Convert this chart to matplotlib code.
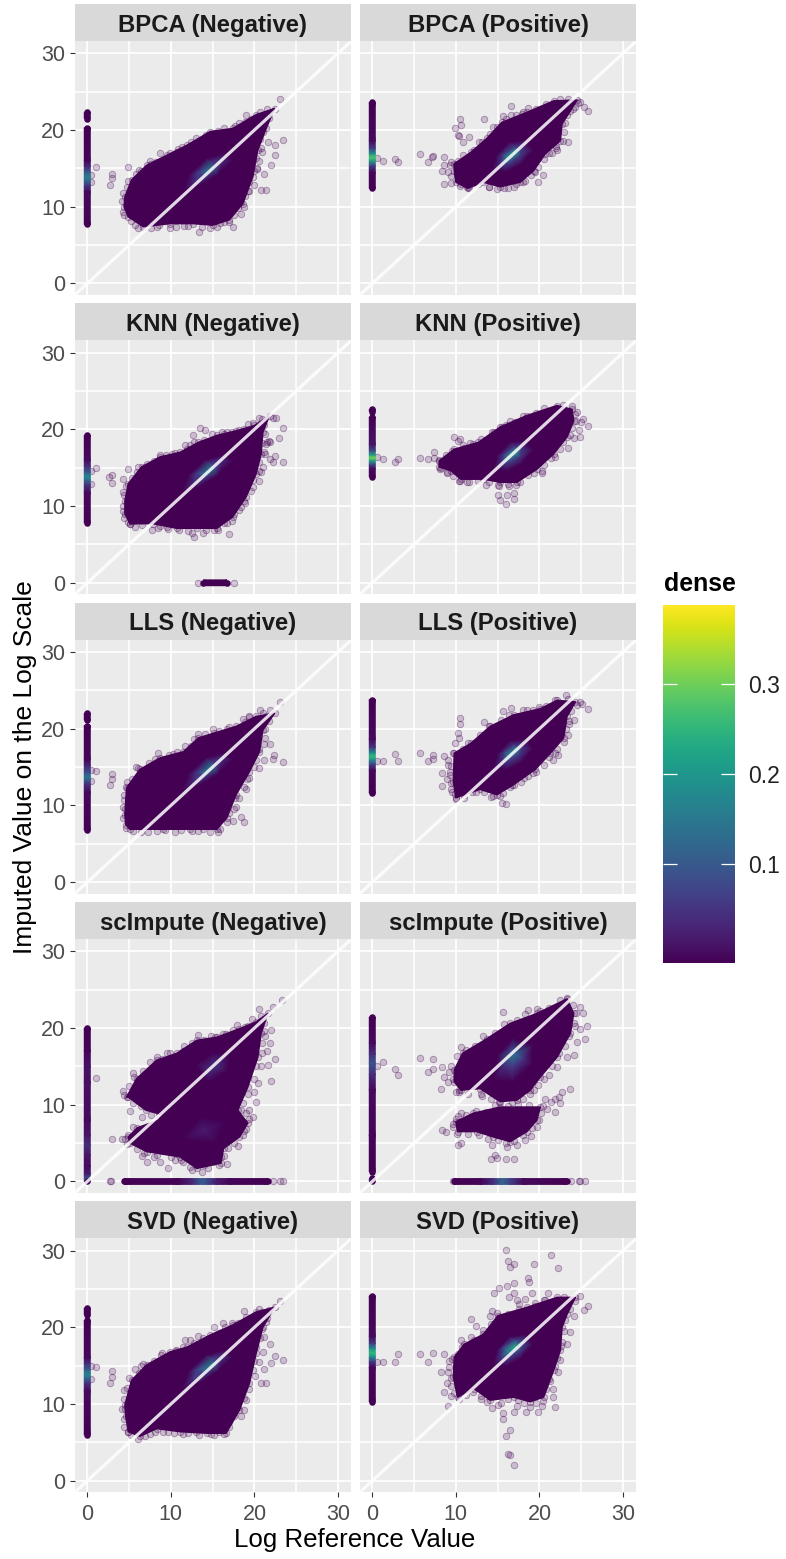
import matplotlib
matplotlib.use('Agg')
import matplotlib.pyplot as plt
from matplotlib.cm import ScalarMappable
from matplotlib.colors import Normalize

plt.rcParams['font.family'] = ['Liberation Sans', 'DejaVu Sans']

# values, all (x, y) on the log scale
# cloud = outline of the solid mass, edge = points on its rough rim, points = loose points,
# hot = (x, y, dense) inside the mass, strips = (y or x, dense) along an axis

bpca_neg_cloud = [(4.5, 11.3), (5.3, 13.5), (7.1, 15.4), (9.5, 16.7), (11.9, 18), (14.7, 19.8), (17.4, 20.2), (20.2, 22), (22.4, 22.8), (21.4, 20.2), (20.4, 17.4), (19.8, 13.9), (18.6, 10.4), (17, 8.3), (15, 7.6), (12.7, 7.8), (9.9, 7.8), (6.7, 7.4), (4.9, 8.7), (4.4, 10)]
bpca_neg_edge = [(4.2, 10.8), (4.8, 12.6), (4.9, 13.4), (5.8, 14.3), (6.4, 14.6), (7.6, 15.6), (8.2, 15.8), (9.9, 17), (10.7, 17.1), (12.4, 17.9), (13.9, 18.6), (14.2, 19.4), (15.6, 19.9), (16.6, 19.8), (17.7, 20.5), (18.9, 21), (19.6, 21.4), (20.7, 22.4), (21.5, 22.7), (21.7, 21.6), (21.2, 21), (21, 19.8), (20.7, 18.8), (20.8, 17.6), (20.2, 16.4), (20.3, 15), (19.9, 14.6), (19.4, 13.2), (19.4, 12), (18.9, 11.4), (18.4, 10.6), (18, 9.8), (17.6, 8.9), (16.9, 8), (15.9, 7.9), (14.7, 7.2), (13.7, 7.4), (11.6, 7.5), (10.6, 7.4), (8.6, 7.6), (7.6, 7.2), (5.7, 7.6), (5.2, 8.1), (4.4, 8.9)]
bpca_neg_points = [(1.1, 15.2), (2.9, 14.3), (2.9, 13.7), (2.7, 12.8), (0.4, 14.2), (0.5, 13.2), (4.3, 11.8), (4.9, 15.2), (6.1, 7.2), (9.9, 7.2), (13.4, 6.7), (17.4, 7.4), (15.5, 7.4), (18.4, 9.1), (18.8, 10), (20.8, 12.2), (21.4, 12.2), (21.2, 14.3), (22, 15.4), (22.4, 16.7), (22.4, 18), (23.4, 18.7), (21.6, 18.5), (23, 24), (19, 22), (18.2, 20.9), (11.3, 17.8), (8.7, 17), (13, 18.9), (16.3, 20.2), (19.5, 15.5), (20.6, 16), (20.9, 17.2), (19.2, 12), (16.3, 8), (12, 7.5), (8.3, 7.4), (4.3, 9.3), (6.2, 14.8), (7.5, 15.9), (10.8, 17.5), (12.4, 18.4), (19.9, 12.8), (20.3, 14.9)]
bpca_neg_hot = [(11.6, 12.3, 0), (12.2, 14.2, 0), (14.2, 16.2, 0), (16.6, 17, 0), (17.4, 16, 0), (15.6, 14.2, 0), (13.4, 12.8, 0), (12.9, 13.4, .05), (13.2, 14.4, .06), (15, 15.8, .06), (16.2, 16, .04), (15.4, 15, .07), (13.9, 14, .07), (14.1, 14.6, .13), (15, 15.2, .14)]
bpca_neg_strips = [[(21.5, 0), (22.3, 0)], [(7.7, 0), (12, .01), (12.8, .06), (13.5, .14), (14, .16), (14.5, .11), (15.3, .04), (16, .005), (20.3, 0)]]
bpca_neg_axis = []

bpca_pos_cloud = [(9.8, 15.6), (11.8, 17.1), (13.7, 18.9), (15.5, 21), (18.5, 22.3), (21.7, 23.8), (24.5, 23.9), (23.7, 22.5), (22.7, 20.8), (22.5, 18.6), (20.7, 16.9), (19.3, 14.7), (17.7, 13.2), (15.3, 12.6), (13.3, 13.2), (11.4, 12.4), (10, 13.2), (9.8, 14.7)]
bpca_pos_edge = [(9.4, 14), (9.3, 15.4), (10.2, 16), (10.9, 16.8), (12.2, 17.4), (13.1, 18.4), (14.1, 19.5), (14.9, 20.4), (16, 21.4), (17.2, 21.9), (18, 22.3), (19.6, 22.8), (20.8, 23.4), (22.4, 24), (23.4, 24), (24.6, 23.5), (24, 22.7), (23.3, 21.9), (23.1, 20.9), (22.9, 19.8), (22.8, 18.6), (22, 17.9), (21.2, 17), (20.6, 16.2), (19.8, 15.2), (19, 14.2), (18.3, 13.3), (17.2, 12.9), (16.2, 12.4), (14.9, 12.3), (14, 12.6), (12.7, 13), (11.3, 12.6), (10.6, 12.9)]
bpca_pos_points = [(10.5, 21.5), (10.6, 20.6), (9.9, 20.2), (10.3, 19.3), (10.4, 19.2), (11.6, 19.1), (10.8, 18.4), (13.4, 21.4), (16.6, 23.1), (18.6, 22.9), (15.6, 21.8), (16.6, 22), (17.9, 22.1), (24.9, 23.6), (25.8, 22.5), (25.3, 23), (23.4, 18.4), (22.1, 17.4), (5.7, 16.9), (7.3, 16.6), (7.2, 16.5), (6.7, 15.8), (3.1, 15.8), (2.7, 16.2), (1.3, 16), (.6, 16.3), (8.6, 16.5), (8.4, 14.7), (8.6, 15.4), (8.6, 12.9), (9.4, 13.1), (10.5, 12.7), (11.6, 12.4), (19.8, 13.2), (20.4, 14.1), (19.5, 14.5), (16.9, 12.6), (18, 13.2), (9, 14.5), (9.4, 15.8), (14.4, 20.4), (12.8, 18.4), (14, 12.6), (15.8, 12.4), (22, 17.6), (21.5, 17), (24.3, 23)]
bpca_pos_hot = [(14.4, 14.8, 0), (14.8, 16.6, 0), (16.4, 18.4, 0), (18.4, 18.6, 0), (19.2, 17.4, 0), (17.8, 15.6, 0), (16, 14.6, 0), (15.4, 15.6, .06), (15.7, 16.8, .07), (17, 17.8, .07), (18, 17.6, .05), (17.6, 16.6, .07), (16.4, 15.8, .08), (16.1, 16.4, .18), (17, 17, .22)]
bpca_pos_strips = [[(12.4, 0), (14.5, .005), (15.4, .08), (16.1, .24), (16.5, .28), (16.9, .2), (17.6, .07), (18.6, .01), (23.6, 0)]]
bpca_pos_axis = []

knn_neg_cloud = [(4.5, 10.7), (4.9, 12.9), (6.5, 15.1), (8.7, 16.4), (11.1, 17), (13.3, 18.3), (15.5, 19.2), (17.8, 19.8), (20, 20.5), (21.8, 21.8), (21, 19.6), (20.8, 16.8), (20.2, 14.2), (19, 11.2), (17.4, 8.6), (15.5, 7.1), (13.1, 7.1), (10.7, 7.1), (7.9, 7.7), (5.1, 7.7), (4.5, 9)]
knn_neg_edge = [(4.3, 10), (4.4, 11.4), (4.6, 12.6), (5.3, 13.6), (5.9, 14.4), (7.2, 15.5), (8, 15.9), (9.4, 16.7), (10.5, 16.9), (11.9, 17.4), (12.8, 18.3), (14, 18.6), (14.9, 19.4), (16.4, 19.4), (17.3, 19.7), (18.8, 20.1), (19.8, 20.8), (20.9, 21.3), (21.2, 20.6), (21.3, 19.4), (20.9, 18.2), (21.1, 17), (20.6, 15.8), (20.5, 14.6), (19.8, 13.4), (19.6, 12), (18.9, 10.4), (18.1, 9.5), (17.3, 8.1), (16.4, 7.8), (15.2, 6.9), (14.2, 6.9), (12.1, 6.8), (11, 6.9), (9.5, 7.3), (8.5, 7.2), (6.6, 7.5), (5.7, 7.3), (4.9, 7.9), (4.4, 8.4)]
knn_neg_points = [(1.1, 15), (2.9, 14), (2.6, 13.8), (2.9, 13), (.4, 14.6), (.5, 12.9), (4.3, 13.5), (4.9, 14.8), (6.1, 15.1), (8.7, 16.6), (10.1, 16.8), (11.7, 18), (12.3, 18), (12.7, 19.2), (13.5, 20.2), (14.1, 19.9), (16.1, 19.6), (16.7, 19.7), (18.2, 19.9), (19.2, 20.7), (20.6, 21.5), (22.6, 21.5), (22.2, 21.5), (23.4, 20.2), (22.9, 18.9), (21.8, 18.3), (21.5, 18.3), (21.7, 18.5), (21.4, 18.1), (22.4, 16.5), (21.8, 16.1), (23.4, 15.7), (22.2, 15.7), (21, 15.1), (20.8, 14.4), (19.8, 12.5), (18.8, 10.7), (18.4, 9.9), (17.6, 9), (17, 6.4), (13.9, 6.5), (12.8, 6), (12.5, 6.5), (7.7, 6.9), (8.7, 7.4), (5.1, 7.7), (4.3, 9.4), (4.3, 11.8), (5.4, 8), (9.6, 7), (15.6, 6.9), (16.7, 7.8), (20.5, 13.3), (21.3, 16.8)]
knn_neg_hot = [(11.4, 12, 0), (12.1, 14, 0), (14, 15.9, 0), (16.6, 16.8, 0), (17.4, 15.8, 0), (15.6, 14, 0), (13.3, 12.5, 0), (12.8, 13.1, .05), (13, 14.2, .06), (14.8, 15.6, .06), (16.2, 15.9, .04), (15.4, 14.8, .07), (13.9, 13.7, .07), (13.9, 14.2, .14), (14.9, 15, .16)]
knn_neg_strips = [[(7.8, 0), (11.8, .01), (12.8, .06), (13.5, .15), (13.9, .18), (14.4, .11), (15.2, .05), (16, .01), (19.2, 0)]]
knn_neg_axis = [[(13.9, 0), (16.7, 0)]]
knn_neg_axis_points = [(13.3, 0), (17.5, 0)]

knn_pos_cloud = [(8, 15.9), (9.8, 17.4), (12.7, 18.3), (15.3, 20.3), (18.5, 21.8), (22.1, 23.1), (23.9, 22.6), (24.1, 21.1), (23.3, 19), (21.7, 16.8), (19.7, 14.8), (17.3, 13.1), (15.3, 13.1), (13.3, 13.5), (10.6, 13.5), (9.4, 14.6), (8, 15.1)]
knn_pos_edge = [(8.1, 14.8), (8, 16), (8.8, 16.7), (9.5, 17.2), (11, 17.5), (12, 18.1), (13.7, 18.6), (14.6, 19.7), (16, 20.6), (17.1, 20.9), (18, 21.7), (19.6, 22.1), (20.6, 22.8), (22.8, 23.2), (23.9, 23), (24.2, 22), (24.4, 21.1), (23.9, 20.2), (23.7, 19.2), (22.8, 18.4), (22.4, 17.4), (21.4, 16.3), (20.6, 15.4), (19.4, 14.3), (18.6, 14), (17.7, 13.1), (16.2, 12.9), (15, 12.7), (14, 13.1), (12.6, 13.2), (11.6, 13.1), (10.5, 13.2), (9.7, 13.9), (8.9, 14.4)]
knn_pos_points = [(9.8, 19), (10.5, 18.7), (10.2, 18.5), (10.8, 17.9), (7.4, 17), (7.4, 16.3), (6.7, 16.1), (5.7, 16.3), (3.1, 16.1), (2.7, 15.8), (1.3, 16.1), (.6, 16.4), (13.6, 12.8), (15, 11.4), (15.3, 10.8), (16, 10.3), (16.1, 11.5), (16.9, 10.9), (17, 11.7), (20.3, 14.6), (21.9, 16.4), (23.4, 17.6), (24.1, 18.9), (24.9, 19), (25.8, 20.4), (25.2, 21.3), (24.7, 19.9), (15.5, 20.3), (16.5, 21.1), (13, 18.8), (14.3, 19.7), (8.2, 15), (8.9, 14.3), (10.4, 13.2), (11.3, 13.1), (15.2, 12.6), (16.3, 12.6), (17.2, 12.8), (20.3, 14.3), (24.5, 22.2), (25, 21), (11.7, 18.2)]
knn_pos_hot = [(14.5, 14.8, 0), (14.9, 16.5, 0), (16.5, 18.3, 0), (18.4, 18.5, 0), (19.2, 17.3, 0), (17.8, 15.5, 0), (16.1, 14.6, 0), (15.5, 15.6, .06), (15.8, 16.7, .07), (17, 17.7, .07), (18, 17.5, .05), (17.6, 16.5, .07), (16.4, 15.8, .08), (16.2, 16.3, .18), (17.1, 17, .22)]
knn_pos_strips = [[(13.8, 0), (14.9, .01), (15.5, .1), (16, .24), (16.3, .31), (16.6, .24), (17.2, .09), (18, .02), (21.6, 0)], [(22.3, 0), (22.6, 0)]]
knn_pos_axis = []

lls_neg_cloud = [(4.5, 8.8), (4.7, 12.3), (6.3, 14.7), (8.7, 16.2), (11.5, 17), (13.3, 18.8), (15.1, 19.4), (17.8, 20.3), (20.2, 21.6), (22.4, 22), (21, 19.8), (20.6, 17), (19.4, 14.4), (17.8, 11.4), (16.7, 8.4), (15.5, 6.9), (12.3, 6.9), (9.1, 6.9), (5.1, 6.9), (4.6, 7.5)]
lls_neg_edge = [(4.3, 8.4), (4.3, 9.8), (4.4, 11.3), (4.6, 12.4), (5.4, 13.5), (6.1, 14.9), (7.4, 15.5), (8.1, 16.1), (9.8, 16.6), (10.7, 17), (12.4, 17.7), (12.8, 18.6), (14.1, 19.3), (15.8, 19.7), (17, 20.2), (18.9, 20.9), (19.4, 21.5), (21, 22), (21.8, 22.5), (21.7, 21), (21.3, 20), (21.3, 18.8), (20.5, 17.4), (20.2, 15.9), (20, 15), (19.1, 13.5), (18.7, 12.4), (17.7, 11), (17.6, 9.6), (16.9, 9), (16.7, 7.8), (15.6, 6.6), (14.7, 6.6), (13.3, 6.7), (10.5, 6.6), (8.4, 6.7), (6.4, 6.6), (5.5, 6.7), (4.6, 7)]
lls_neg_points = [(1.1, 14.5), (2.9, 14.1), (2.9, 13.4), (2.7, 12.7), (.4, 13.2), (.4, 14.6), (4.4, 10.7), (4.5, 9.5), (4.8, 13.1), (5.8, 15), (8.5, 16.9), (11.7, 17.8), (13.3, 19.3), (15, 20), (16.7, 20), (18.6, 21.3), (20.7, 22.5), (23, 23.5), (21.8, 18), (21.1, 18), (22.3, 16.6), (22.2, 16.1), (23.4, 15.6), (21.2, 15.9), (20.6, 14.9), (19.4, 13.6), (18.2, 11), (18.4, 8.5), (18.8, 7.8), (17.4, 8), (7.3, 6.5), (9.3, 6.8), (13.9, 6.9), (15.9, 6.9), (17.8, 9.8), (19, 12.2), (21.4, 21.7), (19.4, 21.7), (10.2, 16.7), (12.5, 6.7), (11.2, 6.8)]
lls_neg_hot = [(11.4, 12, 0), (12.1, 14.1, 0), (14.1, 16.1, 0), (16.6, 16.9, 0), (17.4, 15.9, 0), (15.6, 14.1, 0), (13.3, 12.6, 0), (12.8, 13.2, .05), (13.1, 14.3, .06), (14.9, 15.7, .06), (16.2, 16, .04), (15.4, 14.9, .07), (13.9, 13.8, .07), (14, 14.3, .14), (15, 15.1, .16)]
lls_neg_strips = [[(21.1, 0), (22, 0)], [(6.8, 0), (11.8, .01), (12.8, .05), (13.4, .12), (13.8, .15), (14.3, .09), (15.2, .04), (16, .005), (20.4, 0)]]
lls_neg_axis = []

lls_pos_cloud = [(9.8, 16.8), (11.8, 18.1), (14.1, 20.3), (16.9, 21.8), (20.1, 22.6), (22.1, 23.7), (24.3, 23.5), (23.3, 21.6), (22.9, 18.8), (21.3, 16.8), (19.5, 14.7), (16.9, 12.7), (14.9, 11.4), (12.9, 12.1), (11, 11.4), (10, 11), (9.7, 13.1)]
lls_pos_edge = [(9.4, 12.1), (9.3, 14), (9.4, 15.2), (9.6, 16.8), (10.8, 17.3), (11.5, 18.2), (12.9, 19.2), (14, 20.4), (15.4, 21.1), (16.4, 21.8), (18, 22.4), (19.2, 22.5), (20.8, 23), (21.9, 23.8), (23.4, 23.9), (24.5, 23.1), (23.8, 22.3), (23.5, 21), (23.2, 19.9), (22.9, 18.3), (22.1, 17.4), (21.1, 16.3), (20.5, 15.3), (19.6, 14.3), (18.6, 13.9), (17.8, 13), (16.5, 12.4), (15.6, 11.6), (14.4, 11.2), (13.4, 11.8), (11.9, 11.7), (11, 11), (9.9, 11.5)]
lls_pos_points = [(10.5, 21.4), (10.5, 20.6), (10.2, 19.5), (10.4, 18.8), (9.9, 18.1), (13.4, 20.9), (15.6, 22.3), (16.6, 22.7), (18.5, 22.4), (19.9, 22.8), (23.2, 24.4), (24.9, 23.5), (25.8, 22.6), (24.1, 21.1), (23.5, 20.6), (23.4, 19.2), (22.2, 16.6), (21.6, 15.9), (19.2, 14.2), (16.7, 12.7), (15.5, 10.3), (16, 10.2), (15.3, 11.2), (10, 10.9), (9.5, 11.8), (8.4, 12.6), (9.4, 12.9), (8.4, 14.2), (9, 15.9), (8.6, 16.5), (9, 15.3), (7.3, 16.6), (7.3, 16.1), (6.7, 15.8), (5.7, 16.9), (3.1, 15.8), (2.7, 16.7), (1.3, 15.8), (.6, 15.8), (8.9, 13.4), (9.3, 14.3), (25.1, 23.2), (21.9, 16.9), (18.2, 13.6), (12.4, 11.7), (14.2, 11.1)]
lls_pos_hot = [(14.5, 14.8, 0), (14.9, 16.6, 0), (16.5, 18.4, 0), (18.4, 18.6, 0), (19.2, 17.4, 0), (17.8, 15.6, 0), (16.1, 14.7, 0), (15.5, 15.7, .05), (15.8, 16.9, .07), (17, 17.8, .07), (18, 17.6, .05), (17.6, 16.6, .06), (16.4, 15.9, .07), (16.2, 16.5, .16), (17.1, 17.2, .2)]
lls_pos_strips = [[(11.6, 0), (14.6, .005), (15.4, .08), (16, .2), (16.4, .26), (16.8, .2), (17.6, .06), (18.6, .01), (23.8, 0)]]
lls_pos_axis = []

sci_neg_cloud = [(4.7, 11), (5.9, 13.4), (8.3, 15.8), (10.7, 16.7), (13.1, 18.4), (15.5, 18.8), (18.2, 19.9), (20.2, 20.8), (21.6, 21.9), (20.8, 19.3), (20.4, 16.2), (19.2, 12.3), (18, 9.3), (19.2, 7.6), (18.2, 5.8), (16.3, 4.3), (16, 2.4), (13.1, 1.7), (11.1, 3.2), (7.1, 3.9), (5.1, 5), (4.9, 5.8), (6, 7), (8.5, 8), (9, 8.7), (7, 9.3), (4.9, 11)]
sci_neg_edge = [(4.4, 11.3), (5, 12.4), (5.6, 13.6), (6.7, 14.4), (7.5, 15.6), (8.9, 16), (9.9, 16.7), (11.4, 17), (12.5, 18), (14, 18.4), (14.8, 19), (16.6, 19.2), (17.4, 19.7), (18.9, 20.1), (19.7, 21.2), (20.8, 21.6), (21.1, 20.6), (21.2, 19.6), (20.9, 18), (20.9, 16.8), (20.2, 15), (19.9, 13.4), (19.2, 11.4), (18.6, 10.2), (18.4, 9.3), (19.3, 8.2), (19, 6.8), (18.6, 6.1), (17.6, 5), (16.8, 4.4), (16.4, 3.3), (15, 2.6), (14, 2.1), (12.3, 1.9), (11.2, 2.8), (10, 3.2), (8.4, 3.4), (6.8, 3.7), (5.9, 4.2), (4.8, 4.9), (4.2, 5.5), (6.6, 8.4), (7.6, 8.6), (8.6, 8.5), (9.6, 8.4), (8.5, 9.2), (6.4, 9.8), (5.5, 10.2)]
sci_neg_points = [(1.1, 13.5), (2.9, 5.5), (4.5, 5.6), (4.9, 6.1), (5.5, 7.1), (5.1, 9.2), (4.3, 11.8), (5.5, 14.2), (8.3, 16.2), (9.5, 16.7), (11.6, 17.6), (13.3, 19.1), (15.3, 18.8), (16.2, 19.2), (17.9, 20.4), (19.2, 20.2), (20.6, 22.5), (22.2, 22.8), (23.3, 23.7), (22, 19.7), (21.9, 18), (22.4, 16), (21.6, 15.2), (22, 13.1), (20.4, 12.8), (20.2, 10.3), (19.4, 9.3), (19, 8.9), (19.8, 8.4), (18, 4.6), (16, 3.2), (16.7, 2.3), (15.7, 2.2), (9.7, 1.8), (8.7, 2.5), (7.1, 2.6), (6.5, 3.3), (12.5, 1.5), (13.7, 1.3), (21.3, 18.9), (21.5, 17), (20.8, 15), (19.9, 11.7), (18.7, 6.6), (14.5, 1.8), (11.4, 2.5), (10.5, 2.8), (8, 3.2)]
sci_neg_hot = [(12.4, 12.6, 0), (13, 15.2, 0), (15, 16.8, 0), (17, 16.6, 0), (16.8, 14.4, 0), (14.4, 12.9, 0), (14.6, 14.6, .05), (15.4, 15.2, .055), (11.3, 5.5, 0), (13.5, 8.4, 0), (16.4, 7.8, 0), (15.5, 5, 0), (13.9, 6.7, .03)]
sci_neg_strips = [[(0, .12), (.4, .1), (1, .03), (2, .01), (3.5, .02), (4.8, .05), (6, .02), (8, .01), (13, .015), (15, .02), (17, .005), (20, 0)]]
sci_neg_axis = [[(4.4, 0), (11, .005), (12.5, .04), (13.3, .09), (13.8, .11), (14.4, .08), (15.5, .03), (17, .005), (21.6, 0)]]
sci_neg_axis_points = [(2.8, 0), (2.7, 0), (22.2, 0), (23, 0), (23.4, 0)]

sci_pos_up = [(9.8, 14.5), (10.8, 16.7), (13.7, 18.6), (16.5, 20.6), (19.7, 21.9), (23.3, 23.8), (24.1, 21.9), (23.7, 19.3), (22.1, 16.2), (20.1, 13.6), (18.9, 11.9), (17.3, 10.6), (15.3, 10.4), (12.9, 12.1), (10.6, 11.9), (9.8, 13)]
sci_pos_low = [(10, 7.8), (12.1, 8.9), (15.3, 9.7), (20.1, 9.7), (19.7, 8), (18.5, 6.5), (16.5, 5.2), (14.5, 5.8), (12.5, 6.5), (10.2, 6.5)]
sci_pos_edge = [(9.6, 13.4), (9.4, 15), (10.1, 16.3), (11.2, 17.2), (12.3, 17.6), (13.3, 18.9), (14.7, 19.3), (15.8, 20.5), (17.3, 21), (18.3, 21.8), (20.1, 22.2), (21.1, 22.6), (22.5, 23.6), (24, 23), (24.4, 22), (24.1, 20.6), (23.5, 19), (23, 17.7), (22.3, 16.8), (21.5, 15.1), (20.5, 13.4), (19.8, 12.6), (18.9, 11.4), (18, 10.7), (16.7, 10.3), (15.2, 10.3), (14.2, 10.8), (13, 11.4), (11.4, 11.4), (10.4, 11.9), (9.7, 7.5), (10.3, 8.5), (11.2, 8.6), (12.4, 9.2), (13.6, 9.1), (14.7, 10), (16.2, 9.8), (17.4, 10.1), (18.7, 10), (20.4, 9.9), (20.2, 8.9), (20, 8), (19.1, 7), (18, 6), (17, 5.3), (16, 5), (15, 5.4), (13.9, 5.6), (12.8, 6.1), (11.4, 6.2), (10.1, 6.2)]
sci_pos_points = [(15.6, 22.1), (18.6, 22.4), (19.7, 22.5), (23.3, 23.9), (24.9, 22.7), (25.2, 21.9), (25.7, 20.2), (24.9, 19.9), (25.4, 18.6), (24.1, 16.5), (23.3, 16.2), (22.1, 14.9), (21.1, 13.9), (23.6, 12), (22.7, 11.6), (21.9, 10.8), (22.5, 10.2), (21.9, 9.1), (20.7, 10.8), (19.7, 7.1), (19.3, 11.9), (10.6, 17.5), (8.4, 14.9), (8.6, 13.6), (8.2, 12), (10, 11.6), (10.4, 11.7), (13.1, 11.1), (10.6, 8.9), (10, 8.2), (8.4, 6.7), (8.8, 6.5), (9.6, 7.1), (10.2, 4.8), (10.6, 5), (14.3, 4.8), (16.1, 4.5), (17.3, 4.8), (18.3, 5.4), (14.2, 2.9), (14.9, 3), (16, 2.9), (16.9, 2.9), (14.7, 3.5), (5.7, 16.1), (7.3, 15.9), (7.3, 14.7), (6.7, 14.3), (3.1, 13.9), (2.7, 14.6), (1.3, 15.6), (.6, 15), (21.4, 10.3), (20.9, 9.4), (22.3, 11), (9, 12.9), (9.2, 14.3), (24.5, 18.2), (24.2, 20.3), (19, 5.9)]
sci_pos_hot = [(14.6, 13.2, 0), (15, 16.4, 0), (16.8, 18.6, 0), (19.2, 17.8, 0), (19, 15.2, 0), (16.8, 13, 0), (15.7, 15, .05), (16.6, 17.3, .06), (18, 16, .06), (16.8, 14.8, .06), (16.7, 16.2, .14), (17.3, 16.6, .12)]
sci_pos_strips = [[(1.3, 0), (6, .005), (12, .01), (14, .05), (15.4, .1), (16.6, .05), (18, .01), (21.4, 0)], [(0, .12), (.4, .08)]]
sci_pos_axis = [[(9.8, 0), (13, .005), (14.5, .05), (15.5, .13), (16.5, .07), (18, .01), (23.3, 0)]]
sci_pos_axis_points = [(9.7, 0), (23.8, 0), (24.7, 0), (24.9, 0), (25.4, 0)]

svd_neg_cloud = [(4.5, 9.9), (5.3, 13.1), (7.1, 15.1), (9.9, 16.8), (11.9, 17.4), (14.7, 19), (17.4, 20.3), (20.2, 22), (22.4, 22.6), (21, 20), (20.2, 16.6), (19.4, 12.7), (18.2, 9.2), (16.6, 6.2), (14.3, 6.2), (11.1, 6.4), (8.3, 6.8), (6.3, 5.8), (4.9, 6.4), (4.6, 8.4)]
svd_neg_edge = [(4.2, 9.3), (4.4, 10.7), (4.8, 12.1), (5, 13.4), (6.2, 14), (6.7, 15.2), (8, 15.6), (8.8, 16.4), (10.6, 16.9), (11.4, 17.4), (12.8, 17.9), (13.9, 18.6), (15.8, 19.2), (16.5, 20.1), (18, 20.6), (19, 21.4), (20.9, 22), (21.7, 22.3), (21.5, 21.2), (20.9, 19.8), (20.7, 18.6), (20.2, 17.4), (20, 15.6), (19.8, 14.4), (19.4, 12), (18.8, 10.8), (18, 9.6), (17.6, 8.4), (16.9, 7), (15.8, 6.4), (14.8, 6.1), (13, 6.3), (11.5, 6.1), (9.6, 6.4), (8.1, 6.3), (6.9, 5.9), (5.2, 6), (4.4, 7), (4.4, 8.1)]
svd_neg_points = [(1.1, 14.8), (2.9, 14.3), (2.9, 13.5), (2.7, 12.7), (.4, 13.2), (.5, 14.9), (4.4, 11.8), (4.5, 9.4), (5.7, 14.6), (8.9, 16.6), (11.7, 18.4), (12.3, 18.4), (13.3, 18.9), (15.1, 20), (16.2, 20.6), (17.3, 20.6), (18.8, 22.1), (20.6, 22.4), (23, 23.4), (21.4, 20.7), (21.2, 18.7), (21.8, 17.8), (21, 16.8), (22.4, 16.3), (23.4, 15.8), (22, 15.4), (21.2, 14.6), (21.4, 12.7), (20.8, 12.7), (19, 10.5), (18.8, 9.2), (18.4, 8.4), (17, 7.7), (16.4, 6.1), (15.1, 6), (13.4, 6), (12.1, 6.2), (7.5, 6.1), (6.1, 5.5), (4.9, 6.3), (20.1, 13.6), (20.5, 15.5), (10.4, 6.2), (9, 6.4), (6.4, 15), (10.6, 17.1)]
svd_neg_hot = [(11.4, 12.1, 0), (12.1, 14.2, 0), (14.2, 16.3, 0), (16.6, 17.1, 0), (17.4, 16.1, 0), (15.6, 14.3, 0), (13.3, 12.7, 0), (12.7, 13.3, .06), (13.1, 14.5, .07), (15, 15.9, .07), (16.2, 16.1, .05), (15.4, 15.1, .08), (13.9, 14, .08), (14, 14.6, .14), (15, 15.3, .15)]
svd_neg_strips = [[(21.6, 0), (22.5, 0)], [(6, 0), (11.8, .01), (12.8, .06), (13.5, .14), (14, .17), (14.5, .11), (15.3, .05), (16, .01), (20.9, 0)]]
svd_neg_axis = []

svd_pos_cloud = [(9.8, 16.1), (11, 17.8), (13.3, 19.1), (15, 21.5), (18.5, 22.6), (22.1, 23.9), (24.3, 23.9), (23.3, 21.7), (22.7, 20), (22.5, 17), (21.7, 14.4), (20.5, 10.9), (18.9, 10.3), (16.9, 10.9), (14.1, 10.5), (12.2, 12), (10.2, 10.9), (9.7, 13.5)]
svd_pos_edge = [(9.4, 13.4), (9.2, 14.8), (9.5, 15.9), (10.3, 16.5), (10.7, 17.4), (12.2, 18.4), (13.2, 19.6), (14.2, 20.4), (14.9, 21.9), (16.2, 21.8), (17.5, 22.4), (19.5, 22.8), (20.7, 23.6), (22.9, 23.9), (24.2, 23.4), (23.7, 22.4), (23.1, 21), (22.9, 19.5), (22.7, 18.1), (22.1, 16), (21.9, 14.9), (21.3, 13), (20.8, 12), (20.4, 10.4), (19.6, 10.1), (18.2, 10.1), (17.4, 10.5), (16.2, 10.6), (15.4, 10.2), (13.7, 10.3), (13, 11.1), (12, 11.6), (11.2, 11.2), (10.4, 10.6), (9.8, 11.5), (9.4, 12.4)]
svd_pos_points = [(16, 30.1), (21.4, 29.4), (16.2, 28.6), (17, 28.2), (16.5, 27.8), (19.4, 28.2), (22.2, 27.7), (18.6, 26.4), (18.7, 25.9), (16.9, 25.8), (16.1, 25.4), (15.2, 25.1), (14.6, 24.5), (19.1, 24.5), (16.9, 24.5), (16.3, 23.9), (17.3, 23.5), (18.3, 23.7), (21, 24.5), (19.5, 23.2), (24.9, 24.1), (25.8, 22.8), (25.3, 22.2), (24.1, 21.5), (11.8, 21.1), (12.4, 20.2), (10.6, 18.3), (11.8, 18.8), (23.6, 19.4), (23.3, 17.8), (22.5, 15.7), (22.2, 14.2), (21.6, 12), (21.6, 10.9), (21.9, 9.6), (19.8, 9), (18.9, 9.6), (18.4, 9), (16.9, 9), (15.6, 8.8), (15.6, 8.1), (16.5, 6.6), (16, 5.9), (16.2, 3.5), (16.5, 3.4), (17, 2.1), (14.3, 9.5), (13, 10.7), (9.1, 9.7), (8.6, 11.6), (8.2, 14.2), (8.6, 16.5), (5.7, 16.5), (7.3, 16.6), (6.7, 15.5), (3.1, 16.5), (2.7, 15.5), (1.3, 15.5), (.6, 15.5), (9, 14.2), (8.9, 12.8), (9.4, 11.1), (9.2, 15.6), (20.5, 23.5), (17.6, 23), (14.3, 22.1), (15, 9.9), (17.3, 9.7), (20.3, 9.7), (21.2, 13.2), (22.6, 17.5), (14.1, 21.5)]
svd_pos_hot = [(14.5, 15.2, 0), (14.9, 17, 0), (16.5, 18.8, 0), (18.4, 19, 0), (19.2, 17.8, 0), (17.8, 16, 0), (16.1, 15, 0), (15.4, 16.1, .06), (15.7, 17.3, .08), (17, 18.2, .09), (18, 18, .07), (17.6, 17, .08), (16.4, 16.3, .08), (16.2, 16.8, .18), (17.2, 17.5, .24)]
svd_pos_strips = [[(10.3, 0), (14.8, .005), (15.6, .07), (16.2, .2), (16.7, .26), (17.2, .2), (17.9, .07), (18.8, .01), (24.1, 0)]]
svd_pos_axis = []

panel_titles = ['BPCA (Negative)', 'BPCA (Positive)', 'KNN (Negative)', 'KNN (Positive)', 'LLS (Negative)', 'LLS (Positive)', 'scImpute (Negative)', 'scImpute (Positive)', 'SVD (Negative)', 'SVD (Positive)']
axis_ticks = [0, 10, 20, 30]
minor_ticks = [5, 15, 25]
dense_ticks = [0.1, 0.2, 0.3]
dense_range = (-0.0096, 0.3875)

panels = [
    ([bpca_neg_cloud], bpca_neg_points + bpca_neg_edge, bpca_neg_hot, bpca_neg_strips, bpca_neg_axis),
    ([bpca_pos_cloud], bpca_pos_points + bpca_pos_edge, bpca_pos_hot, bpca_pos_strips, bpca_pos_axis),
    ([knn_neg_cloud], knn_neg_points + knn_neg_edge + knn_neg_axis_points, knn_neg_hot, knn_neg_strips, knn_neg_axis),
    ([knn_pos_cloud], knn_pos_points + knn_pos_edge, knn_pos_hot, knn_pos_strips, knn_pos_axis),
    ([lls_neg_cloud], lls_neg_points + lls_neg_edge, lls_neg_hot, lls_neg_strips, lls_neg_axis),
    ([lls_pos_cloud], lls_pos_points + lls_pos_edge, lls_pos_hot, lls_pos_strips, lls_pos_axis),
    ([sci_neg_cloud], sci_neg_points + sci_neg_edge + sci_neg_axis_points, sci_neg_hot, sci_neg_strips, sci_neg_axis),
    ([sci_pos_up, sci_pos_low], sci_pos_points + sci_pos_edge + sci_pos_axis_points, sci_pos_hot, sci_pos_strips, sci_pos_axis),
    ([svd_neg_cloud], svd_neg_points + svd_neg_edge, svd_neg_hot, svd_neg_strips, svd_neg_axis),
    ([svd_pos_cloud], svd_pos_points + svd_pos_edge, svd_pos_hot, svd_pos_strips, svd_pos_axis),
]

W, H = 786, 1559
DARK = '#440154'
POINT_FACE = (0.267, 0.004, 0.329, 0.2)
POINT_EDGE = (0.267, 0.004, 0.329, 0.38)
cmap = plt.get_cmap('viridis')
norm = Normalize(0, dense_range[1])
px = 72 / 100

fig = plt.figure(figsize=(W / 100, H / 100), dpi=100, facecolor='white')


def add_box(left, top, right, bottom):
    return fig.add_axes([left / W, 1 - bottom / H, (right - left) / W, (bottom - top) / H])


def draw_strip(ax, stops, horizontal=False):
    at = [s[0] for s in stops]
    vals = [[s[1], s[1]] for s in stops]
    if horizontal:
        ax.pcolormesh(at, [-0.38, 0.38], list(map(list, zip(*vals))), cmap=cmap, norm=norm, shading='gouraud', zorder=3)
        ax.scatter([at[0], at[-1]], [0, 0], s=22, c=DARK, linewidths=0, zorder=3)
    else:
        ax.pcolormesh([-0.36, 0.36], at, vals, cmap=cmap, norm=norm, shading='gouraud', zorder=3)
        ax.scatter([0, 0], [at[0], at[-1]], s=22, c=DARK, linewidths=0, zorder=3)


def draw_panel(ax, clouds, points, hot, strips, axis_strips):
    for cloud in clouds:
        xs = [p[0] for p in cloud]
        ys = [p[1] for p in cloud]
        ax.fill(xs, ys, color=DARK, lw=1.5 * px, joinstyle='round', zorder=2)
        ax.scatter(xs, ys, s=22, facecolors=POINT_FACE, edgecolors=POINT_EDGE, linewidths=0.6, zorder=2)
    ax.scatter([p[0] for p in points], [p[1] for p in points], s=22, facecolors=POINT_FACE, edgecolors=POINT_EDGE, linewidths=0.6, zorder=2)
    ax.tripcolor([h[0] for h in hot], [h[1] for h in hot], [h[2] for h in hot], cmap=cmap, norm=norm, shading='gouraud', zorder=2.5)
    for stops in strips:
        draw_strip(ax, stops)
    for stops in axis_strips:
        draw_strip(ax, stops, horizontal=True)
    ax.plot([-2, 32], [-2, 32], color='white', lw=3.2 * px, alpha=0.85, zorder=4)


col_edges = [(75, 351), (360, 636)]
row_tops = [4, 303.3, 602.7, 902, 1201.3]

for i, title in enumerate(panel_titles):
    row, col = divmod(i, 2)
    left, right = col_edges[col]
    top = row_tops[row]

    strip = add_box(left, top, right, top + 37)
    strip.set_facecolor('#D9D9D9')
    strip.set_xticks([])
    strip.set_yticks([])
    for s in strip.spines.values():
        s.set_visible(False)
    strip.text(0.5, 0.43, title, ha='center', va='center', transform=strip.transAxes, fontsize=17.2, fontweight='bold', color='#1A1A1A')

    ax = add_box(left, top + 37, right, top + 291)
    ax.set_facecolor('#EBEBEB')
    for s in ax.spines.values():
        s.set_visible(False)
    for t in axis_ticks:
        ax.axvline(t, color='white', lw=1.8 * px, zorder=1)
        ax.axhline(t, color='white', lw=1.8 * px, zorder=1)
    for t in minor_ticks:
        ax.axvline(t, color='white', lw=1.5 * px, zorder=1)
        ax.axhline(t, color='white', lw=1.5 * px, zorder=1)
    draw_panel(ax, *panels[i])
    ax.set_xlim(-1.47, 31.55)
    ax.set_ylim(-1.5, 31.6)
    ax.set_xticks(axis_ticks)
    ax.set_yticks(axis_ticks)
    ax.tick_params(axis='x', bottom=row == 4, labelbottom=row == 4, length=3.6, width=0.8, color='#333333',
                   labelsize=15.5, labelcolor='#4D4D4D', pad=4.5)
    ax.tick_params(axis='y', left=col == 0, labelleft=col == 0, length=3.6, width=0.8, color='#333333',
                   labelsize=15.5, labelcolor='#4D4D4D', pad=3.6)

fig.text(355 / W, 1 - 1540 / H, 'Log Reference Value', ha='center', va='center', fontsize=18.6, color='black')
fig.text(25 / W, 1 - 767 / H, 'Imputed Value on the Log Scale', ha='center', va='center', rotation=90, fontsize=19, color='black')

# colour bar
cax = add_box(663, 605, 735, 963)
bar = fig.colorbar(ScalarMappable(Normalize(*dense_range), cmap), cax=cax)
bar.outline.set_visible(False)
bar.set_ticks(dense_ticks)
bar.set_ticklabels(['0.1', '0.2', '0.3'])
cax.tick_params(left=True, right=True, labelleft=False, labelright=True, direction='in', color='white', length=10.4, width=0.9,
                labelsize=16.5, labelcolor='#222222', pad=9.4)
cax.minorticks_off()
fig.text(664 / W, 1 - 584 / H, 'dense', ha='left', va='center', fontsize=17.9, fontweight='bold', color='black')

fig.savefig('out.png', dpi=100)
